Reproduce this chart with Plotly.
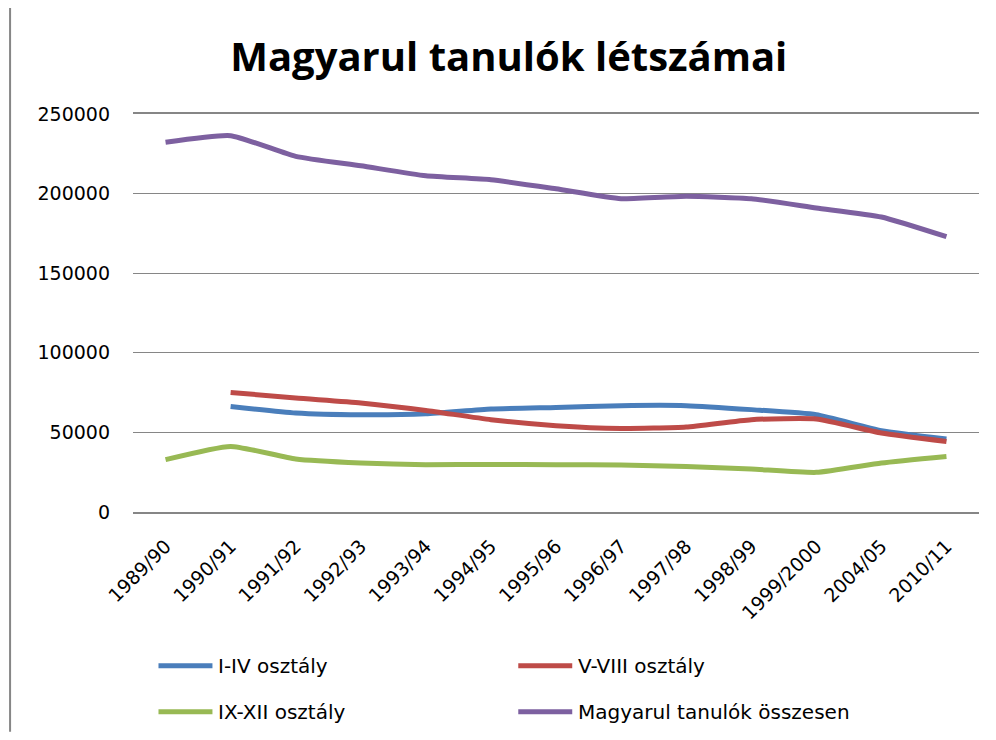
import plotly.graph_objects as go

categories = ["1989/90", "1990/91", "1991/92", "1992/93", "1993/94", "1994/95",
              "1995/96", "1996/97", "1997/98", "1998/99", "1999/2000", "2004/05", "2010/11"]

i_iv = [None, 66300, 62200, 61100, 61700, 64700, 65700, 66800, 66800, 64300, 61100, 51100, 45900]
v_viii = [None, 75100, 71600, 68500, 63800, 58000, 54200, 52500, 53400, 58000, 58400, 49600, 44300]
ix_xii = [32900, 41200, 33300, 30800, 29700, 29900, 29700, 29500, 28600, 27000, 24900, 30800, 34900]
osszesen = [232200, 236400, 223400, 217500, 211200, 208700, 203000, 196800, 198300, 196800, 191000, 185300, 172900]

series_names = ["I-IV osztály", "V-VIII osztály", "IX-XII osztály", "Magyarul tanulók összesen"]
series_values = [i_iv, v_viii, ix_xii, osszesen]
series_colors = ["#4A7EBB", "#BE4B48", "#98B954", "#7D60A0"]

y_ticks = [0, 50000, 100000, 150000, 200000, 250000]

# the page body has an 8px margin; work in window pixels and convert
OFF = 8
WIN_W, WIN_H = 996, 740
W, H = WIN_W - 2 * OFF, WIN_H - 2 * OFF
L, R = 132.5 - OFF, 979.0 - OFF
T, B = 114.3 - OFF, 512.3 - OFF


def px_x(p):
    return (p - OFF - L) / (R - L)


def px_y(p):
    return (B - (p - OFF)) / (B - T)


fig = go.Figure()
for name, vals, col in zip(series_names, series_values, series_colors):
    fig.add_trace(go.Scatter(
        x=categories, y=vals, name=name, mode="lines",
        line=dict(color=col, width=5, shape="spline", smoothing=0.5),
        connectgaps=False, showlegend=False,
    ))

# manual legend (two columns), window pixel positions
legend_pos = [(158, 666), (518, 666), (158, 712), (518, 712)]
shapes = []
annotations = []
for (lx, ly), name, col in zip(legend_pos, series_names, series_colors):
    shapes.append(dict(type="line", xref="paper", yref="paper",
                       x0=px_x(lx), x1=px_x(lx + 54), y0=px_y(ly), y1=px_y(ly),
                       line=dict(color=col, width=5)))
    annotations.append(dict(xref="paper", yref="paper", x=px_x(lx + 58), y=px_y(ly),
                            text=name, showarrow=False, xanchor="left", yanchor="middle",
                            font=dict(family="DejaVu Sans", size=20, color="#000000")))

# left border of the chart frame
shapes.append(dict(type="line", xref="paper", yref="paper",
                   x0=px_x(9.5), x1=px_x(9.5), y0=px_y(OFF), y1=px_y(WIN_H - OFF),
                   line=dict(color="#868686", width=2)))

fig.update_layout(
    width=W, height=H,
    margin=dict(l=L, r=W - R, t=T, b=H - B, pad=0, autoexpand=False),
    paper_bgcolor="white", plot_bgcolor="white",
    title=dict(text="<b>Magyarul tanulók létszámai</b>", x=px_x(508.5), xanchor="center",
               y=1 - (57 - OFF) / H, yanchor="middle", xref="paper",
               font=dict(family="Open Sans", size=40, color="#000000")),
    font=dict(family="DejaVu Sans", color="#000000"),
    shapes=shapes, annotations=annotations,
    showlegend=False,
)
fig.update_xaxes(
    type="category", categoryorder="array", categoryarray=categories,
    tickangle=-45, tickfont=dict(family="DejaVu Sans", size=19, color="#000000"),
    showgrid=False, showline=True, mirror=True, linecolor="#868686", linewidth=1.5,
    zeroline=False, ticks="", ticklabelstandoff=14,
    range=[-0.5, len(categories) - 0.5], automargin=False,
)
fig.update_yaxes(
    range=[0, 250000], tickvals=y_ticks, ticktext=[str(v) for v in y_ticks],
    tickfont=dict(family="DejaVu Sans", size=19, color="#000000"),
    showgrid=True, gridcolor="#868686", gridwidth=1.3,
    zeroline=True, zerolinecolor="#868686", zerolinewidth=1.3,
    showline=False, ticks="", ticklabelstandoff=22, automargin=False,
)

fig.write_html("out.html")
